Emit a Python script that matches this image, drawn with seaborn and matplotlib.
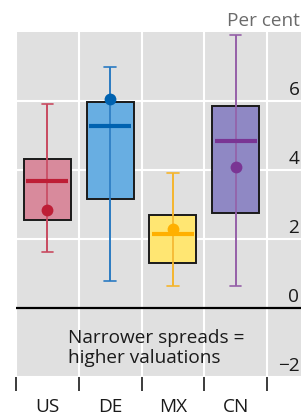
import pandas as pd
import matplotlib.pyplot as plt
import seaborn as sns

# Values (per cent)
countries = ['US', 'DE', 'MX', 'CN']
lows = [1.63, 0.77, 0.63, 0.63]
q1s = [2.53, 3.16, 1.29, 2.74]
medians = [3.67, 5.27, 2.14, 4.84]
q3s = [4.30, 5.97, 2.69, 5.83]
highs = [5.91, 6.96, 3.91, 7.90]
latest = [2.82, 6.04, 2.29, 4.07]
y_ticks = [-2, 0, 2, 4, 6]

fill_colors = ['#d88a9c', '#68aee2', '#ffe672', '#8f88c4']
line_colors = ['#c84a60', '#2a7bc2', '#f5b52e', '#9560a8']
median_colors = ['#be1e36', '#0062b0', '#ffb000', '#7a3594']

# Five points per country give exact quartiles with whis=(0, 100)
rows = []
for i, c in enumerate(countries):
    for v in [lows[i], q1s[i], medians[i], q3s[i], highs[i]]:
        rows.append({'country': c, 'value': v})
df = pd.DataFrame(rows)

sns.set_theme(style='white')
plt.rcParams['font.family'] = ['Open Sans', 'DejaVu Sans']
FS = 13.7

fig = plt.figure(figsize=(3.01, 4.20), dpi=100)
# axes runs past the right edge, like the cropped original
ax = fig.add_axes([16 / 301, 43.1 / 420, 313.75 / 301, 345.4 / 420])
ax.set_facecolor('#e0e0e0')

for i, c in enumerate(countries):
    sub = df[df['country'] == c]
    sns.boxplot(data=sub, x='country', y='value', order=countries, whis=(0, 100),
                width=0.75, color=fill_colors[i], saturation=1, ax=ax,
                boxprops=dict(edgecolor='#1a1a1a', linewidth=1.4),
                whiskerprops=dict(color=line_colors[i], linewidth=1.2),
                capprops=dict(color=line_colors[i], linewidth=1.2),
                medianprops=dict(color=median_colors[i], linewidth=3, zorder=3),
                capwidths=0.18)
    # median bar a bit narrower than the box
    for m in ax.containers[-1].medians:
        xd = m.get_xdata()
        mid = (min(xd) + max(xd)) / 2
        m.set_xdata([mid - 0.335, mid + 0.335])

# whisker line runs through the box
ax.vlines(range(len(countries)), lows, highs, colors=line_colors, linewidth=1.2, zorder=2.5)

sns.stripplot(x=countries, y=latest, hue=countries, palette=median_colors, jitter=False,
              size=8.5, linewidth=0, legend=False, zorder=5, ax=ax)

ax.axhline(0, color='black', linewidth=1.6, zorder=2)

ax.set_xlim(-0.5, 4.5)
ax.set_ylim(-2, 8)
ax.set_xticks(range(len(countries)))
ax.set_xticklabels(countries)
ax.set_xticks([-0.5, 0.5, 1.5, 2.5, 3.5, 4.5], minor=True)
ax.set_yticks(y_ticks)
ax.set_yticklabels([])
ax.set_xlabel('')
ax.set_ylabel('')
ax.tick_params(axis='x', which='major', length=0, pad=15, labelsize=FS, labelcolor='#1a1a1a')
ax.tick_params(axis='x', which='minor', length=10, width=1.2, color='#1a1a1a', bottom=True)
ax.tick_params(axis='y', length=0)
ax.grid(False)
ax.grid(True, which='minor', axis='x', color='white', linewidth=1.5)
ax.grid(True, which='major', axis='y', color='white', linewidth=1.5)
ax.set_axisbelow(True)
for s in ax.spines.values():
    s.set_visible(False)

# y labels sit inside the plot on the right, above each gridline
for t in y_ticks:
    label = '\u22122' if t < 0 else str(t)
    ax.text(4.015, t + 0.17, label, ha='right', va='baseline', fontsize=FS, color='#1a1a1a')

# baseline of a multi-line text is the last line's
ax.text(0.33, -1.59, 'Narrower spreads =\nhigher valuations', ha='left', va='baseline',
        fontsize=FS, linespacing=1.12, color='#1a1a1a')

fig.text(299.5 / 301, (420 - 26) / 420, 'Per cent', ha='right', va='baseline',
         fontsize=FS, color='#6b6b6b')

fig.savefig('out.png', dpi=100)
